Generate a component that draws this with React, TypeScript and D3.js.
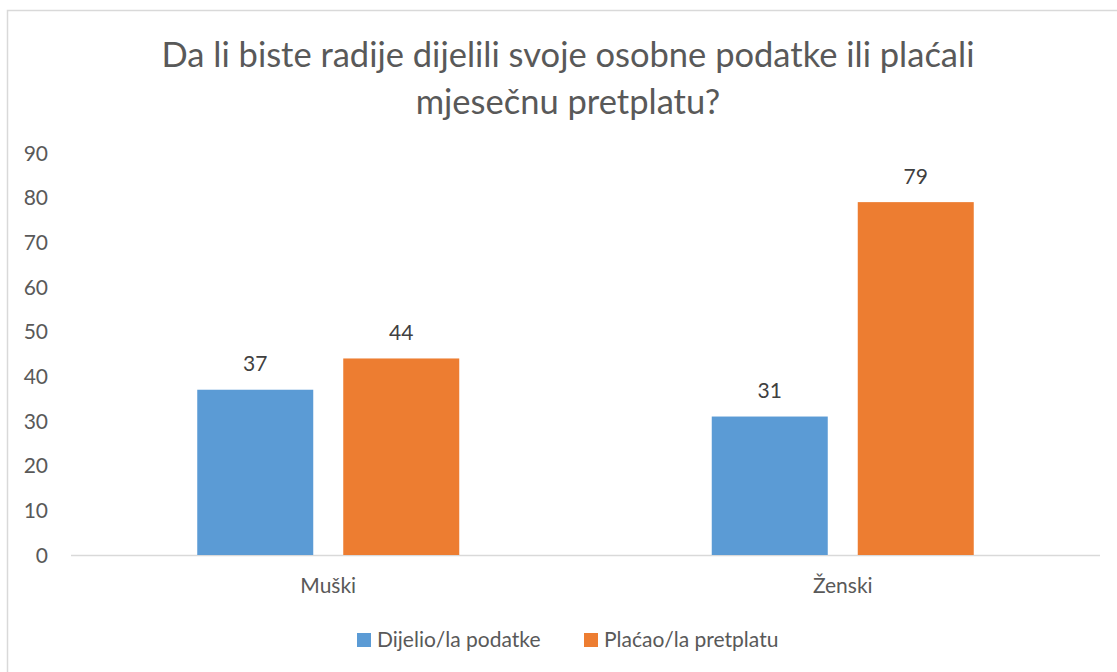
import React from "react";
import * as d3 from "d3";

const categories = ["Muški", "Ženski"];
const seriesNames = ["Dijelio/la podatke", "Plaćao/la pretplatu"];
const dijelio = [37, 31];
const placao = [44, 79];
const yTicks = [0, 10, 20, 30, 40, 50, 60, 70, 80, 90];
const titleLines = ["Da li biste radije dijelili svoje osobne podatke ili plaćali", "mjesečnu pretplatu?"];
const colors = ["#5B9BD5", "#ED7D31"];

const W = 1117;
const H = 672;
const FONT = "Lato, 'Open Sans', sans-serif";

export default function App() {
  const plotL = 71, plotR = 1100, plotT = 153, plotB = 555;
  const y = d3.scaleLinear().domain([0, 90]).range([plotB, plotT]);
  const x0 = d3.scaleBand<string>().domain(categories).range([plotL, plotR]).padding(0);
  const groupW = 262;
  const x1 = d3.scaleBand<string>().domain(seriesNames).range([0, groupW]).paddingInner(30 / 146);
  const values = [dijelio, placao];

  return (
    <svg width={W} height={H} style={{ position: "absolute", left: 0, top: 0, fontFamily: FONT }}>
      <rect x={0} y={0} width={W} height={H} fill="#fff" />
      <rect x={7.5} y={10.5} width={W + 20} height={H + 20} fill="#fff" stroke="#D9D9D9" strokeWidth={1.5} />
      {titleLines.map((t, i) => (
        <text key={i} x={568} y={67 + i * 46.5} textAnchor="middle" fontSize={34.5} fill="#595959">{t}</text>
      ))}
      {yTicks.map((t) => (
        <text key={t} x={48} y={y(t)} dy="0.36em" textAnchor="end" fontSize={21} fill="#595959">{t}</text>
      ))}
      <line x1={plotL} x2={plotR} y1={plotB + 0.5} y2={plotB + 0.5} stroke="#D9D9D9" strokeWidth={1.5} />
      {categories.map((c, ci) => {
        const gx = (x0(c) as number) + x0.bandwidth() / 2 - groupW / 2;
        return (
          <g key={c}>
            {seriesNames.map((s, si) => {
              const v = values[si][ci];
              const bx = gx + (x1(s) as number);
              return (
                <g key={s}>
                  <rect x={bx} y={y(v)} width={x1.bandwidth()} height={plotB - y(v)} fill={colors[si]} />
                  <text x={bx + x1.bandwidth() / 2} y={y(v) - 18.5} textAnchor="middle" fontSize={21} fill="#404040">{v}</text>
                </g>
              );
            })}
            <text x={(x0(c) as number) + x0.bandwidth() / 2} y={593} textAnchor="middle" fontSize={21} fill="#595959">{c}</text>
          </g>
        );
      })}
      {seriesNames.map((s, i) => {
        const lx = [357, 584][i];
        return (
          <g key={s}>
            <rect x={lx} y={633} width={14} height={14} fill={colors[i]} />
            <text x={lx + 20} y={647} fontSize={21} fill="#595959">{s}</text>
          </g>
        );
      })}
    </svg>
  );
}
